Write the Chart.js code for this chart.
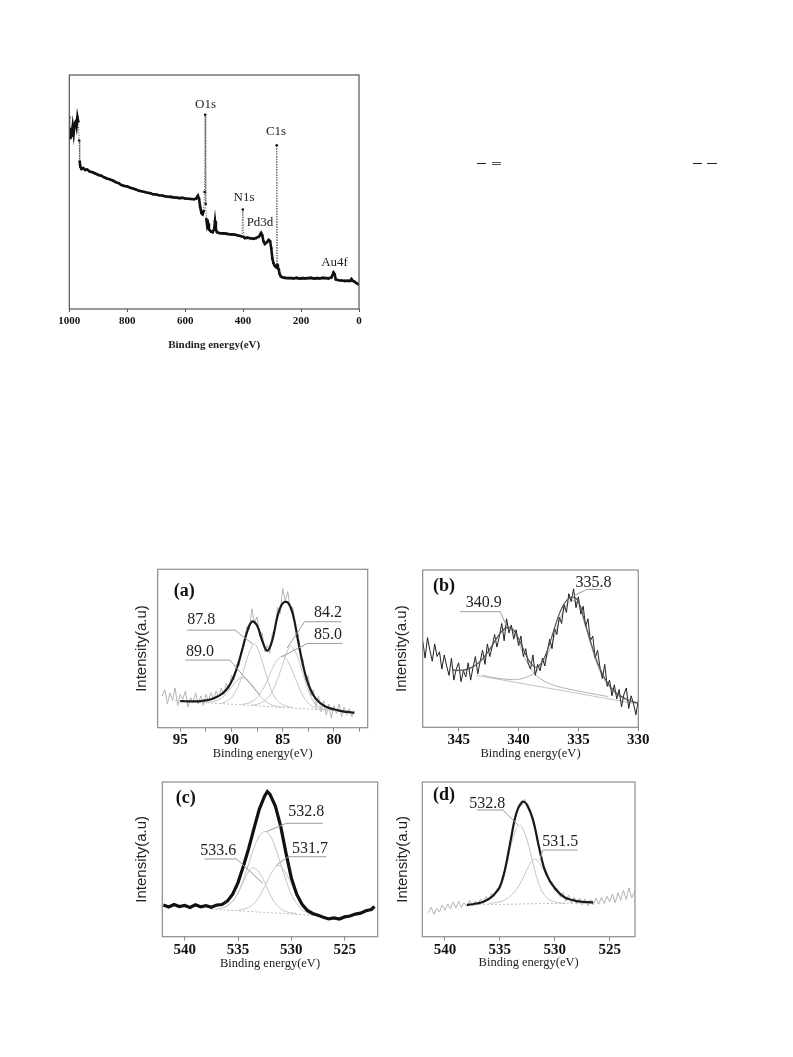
<!DOCTYPE html>
<html>
<head>
<meta charset="utf-8">
<script src="https://cdn.jsdelivr.net/npm/chart.js@4.4.1/dist/chart.umd.min.js"></script>
<style>
body { margin: 0; background: #fff; }
#page { position: relative; width: 793px; height: 1057px; overflow: hidden; background: #fff; }
canvas { position: absolute; }
.dash { position: absolute; height: 1.4px; background: #222; }
</style>
</head>
<body>
<div id="page">
  <canvas id="survey" width="350" height="300" style="left:40px;top:60px"></canvas>
  <canvas id="pa" width="265" height="215" style="left:125px;top:555px"></canvas>
  <canvas id="pb" width="275" height="215" style="left:385px;top:555px"></canvas>
  <canvas id="pc" width="265" height="200" style="left:125px;top:772px"></canvas>
  <canvas id="pd" width="275" height="200" style="left:385px;top:772px"></canvas>

  <div class="dash" style="left:477px;top:162.6px;width:9px"></div>
  <div class="dash" style="left:492px;top:161.6px;width:9px;height:1px;background:#555"></div>
  <div class="dash" style="left:492px;top:163.8px;width:9px;height:1px;background:#555"></div>
  <div class="dash" style="left:693px;top:162.6px;width:8.5px"></div>
  <div class="dash" style="left:707px;top:162.6px;width:9.5px"></div>
</div>
<script>
// survey scan
var SURVEY_X = [1000, 998, 996, 994, 991, 988, 985, 982, 978, 975, 972, 969, 966, 964, 962, 958, 952, 945, 938,
  930, 920, 910, 900, 890, 880, 870, 860, 850, 840, 830, 820, 810, 800, 790, 780, 770, 760, 750, 740,
  730, 720, 710, 700, 690, 680, 670, 660, 650, 640, 630, 620, 610, 600, 590, 580, 570, 562, 556, 552,
  548, 544, 540, 536, 533, 531, 529, 527, 524, 521, 518, 514, 510, 505, 500, 497, 494, 490, 480, 470,
  460, 450, 440, 430, 420, 410, 404, 401, 398, 394, 385, 375, 365, 355, 345, 338, 334, 330, 325, 318,
  312, 307, 303, 299, 295, 291, 287, 286, 284, 282, 280, 277, 274, 270, 265, 255, 245, 235, 225, 215,
  205, 195, 185, 175, 165, 155, 145, 135, 125, 115, 105, 95, 88, 84, 80, 70, 60, 50, 40, 30,
  26, 22, 15, 8, 0];
var SURVEY_Y = [82, 76, 73, 77, 74, 78, 75, 79, 80, 78, 82, 80, 72, 63, 60.8, 59.8, 60.2, 59.4, 59.6,
  58.8, 58.4, 57.9, 57.3, 57.0, 56.3, 55.8, 55.4, 54.9, 54.2, 53.8, 53.0, 52.6, 52.4, 51.8, 51.5, 51.1, 50.5, 50.3, 50.0,
  49.7, 49.5, 49.0, 48.9, 48.6, 48.5, 48.2, 48.0, 47.9, 47.7, 47.6, 47.4, 47.5, 47.2, 47.1, 47.0, 46.9, 47.2, 48.4, 47.0,
  43.5, 41.0, 40.5, 42.0, 50, 83, 45, 38.5, 35.5, 36.5, 34.0, 33.5, 33.0, 32.8, 34.0, 37.5, 34.0, 32.8, 32.4, 32.3,
  32.2, 32.0, 31.9, 31.8, 31.5, 31.2, 31.0, 42.5, 30.8, 30.3, 30.5, 30.2, 30.0, 30.3, 31.0, 32.5, 31.5, 29.0, 27.8, 28.5,
  29.5, 29.0, 26.0, 21.5, 19.5, 18.5, 18.0, 18.5, 70, 19, 17.5, 17.0, 15.0, 14.0, 13.6, 13.3, 13.2, 13.2, 13.1, 13.3,
  13.0, 13.2, 13.1, 13.2, 13.3, 13.0, 13.2, 13.1, 13.3, 13.2, 13.1, 13.5, 15.6, 14.8, 12.6, 12.3, 12.2, 12.0, 12.1, 12.0,
  12.8, 12.1, 11.6, 11.0, 10.4];

// (a) Au4f
var A_RAW_X = [96.75, 96.5, 96.25, 96, 95.75, 95.5, 95.25, 95, 94.75, 94.5, 94.25, 94, 93.75, 93.5, 93.25, 93,
  92.75, 92.5, 92.25, 92, 91.75, 91.5, 91.25, 91, 90.75, 90.5, 90.25, 90, 89.75, 89.5, 89.25, 89,
  88.75, 88.5, 88.25, 88, 87.75, 87.5, 87.25, 87, 86.75, 86.5, 86.25, 86, 85.75, 85.5, 85.25, 85,
  84.75, 84.5, 84.25, 84, 83.75, 83.5, 83.25, 83, 82.75, 82.5, 82.25, 82, 81.75, 81.5, 81.25, 81,
  80.75, 80.5, 80.25, 80, 79.75, 79.5, 79.25, 79, 78.75, 78.5, 78.25, 78];
var A_RAW_Y = [20, 24, 15, 22, 17, 25, 14, 21, 18, 23, 13, 19, 16, 22, 15, 20,
  14, 21, 17, 22, 18, 23, 19, 25, 21, 28, 24, 33, 30, 40, 39, 50,
  52, 64, 62, 75, 66, 70, 58, 60, 48, 52, 47, 60, 62, 76, 72, 88,
  80, 86, 74, 76, 62, 60, 46, 43, 30, 33, 20, 24, 13, 20, 10, 17,
  8, 15, 6, 14, 9, 15, 7, 13, 8, 12, 7, 11];
var A_ENV_X = [95, 94.5, 94, 93.5, 93, 92.5, 92, 91.5, 91, 90.5, 90, 89.5, 89, 88.5, 88, 87.5, 87, 86.5,
  86, 85.5, 85, 84.5, 84, 83.5, 83, 82.5, 82, 81.5, 81, 80.5, 80, 79.5, 79, 78.5, 78];
var A_ENV_Y = [16.8, 16.7, 16.6, 16.6, 16.8, 17.2, 18.0, 19.2, 21.0, 24.0, 29.0, 37.0, 48.0, 60.0, 67.0, 64.5, 55.0, 48.5,
  55.5, 70.5, 78.5, 79.0, 71.5, 55.0, 39.0, 27.5, 20.5, 16.5, 14.0, 12.5, 11.6, 10.8, 10.2, 9.8, 9.4];
var A_C890_X = [92.5, 92, 91.5, 91, 90.5, 90, 89.5, 89, 88.5, 88, 87.5, 87, 86.5, 86, 85.5, 85];
var A_C890_Y = [15.9, 16.2, 17.0, 18.6, 21.5, 25.5, 29.5, 31.5, 30.5, 27.0, 22.5, 18.5, 15.8, 14.2, 13.4, 12.9];
var A_C878_X = [91, 90.5, 90, 89.5, 89, 88.5, 88, 87.75, 87.5, 87, 86.5, 86, 85.5, 85, 84.5, 84];
var A_C878_Y = [15.4, 16.5, 19.0, 24.0, 32.0, 43.0, 51.5, 53.0, 51.0, 42.0, 31.0, 22.0, 17.0, 14.5, 13.3, 12.7];
var A_C850_X = [89, 88.5, 88, 87.5, 87, 86.5, 86, 85.5, 85, 84.5, 84, 83.5, 83, 82.5, 82, 81.5, 81];
var A_C850_Y = [14.6, 15.2, 16.5, 19.0, 23.5, 30.0, 37.5, 43.0, 45.0, 42.0, 35.0, 27.0, 20.0, 15.5, 13.0, 11.9, 11.4];
var A_C842_X = [88, 87.5, 87, 86.5, 86, 85.5, 85, 84.5, 84.25, 84, 83.5, 83, 82.5, 82, 81.5, 81, 80.5];
var A_C842_Y = [14.2, 14.8, 16.0, 18.5, 23.0, 30.5, 40.0, 49.0, 51.5, 50.5, 44.0, 33.5, 23.5, 16.5, 13.0, 11.6, 11.1];
var A_BG_X = [95.5, 78];
var A_BG_Y = [17.0, 10.0];

// (b) Pd3d
var B_RAW_X = [348.0, 347.8, 347.6, 347.4, 347.2, 347.0, 346.8, 346.6, 346.4, 346.2,
  346.0, 345.8, 345.6, 345.4, 345.2, 345.0, 344.8, 344.6, 344.4, 344.2,
  344.0, 343.8, 343.6, 343.4, 343.2, 343.0, 342.8, 342.6, 342.4, 342.2,
  342.0, 341.8, 341.6, 341.4, 341.2, 341.0, 340.8, 340.6, 340.4, 340.2,
  340.0, 339.8, 339.6, 339.4, 339.2, 339.0, 338.8, 338.6, 338.4, 338.2,
  338.0, 337.8, 337.6, 337.4, 337.2, 337.0, 336.8, 336.6, 336.4, 336.2,
  336.0, 335.8, 335.6, 335.4, 335.2, 335.0, 334.8, 334.6, 334.4, 334.2,
  334.0, 333.8, 333.6, 333.4, 333.2, 333.0, 332.8, 332.6, 332.4, 332.2,
  332.0, 331.8, 331.6, 331.4, 331.2, 331.0, 330.8, 330.6, 330.4, 330.2, 330.0];
var B_RAW_Y = [55, 44, 57, 49, 42, 53, 45, 48, 37, 46,
  39, 33, 44, 30, 37, 41, 29, 36, 32, 41,
  30, 38, 45, 34, 42, 49, 40, 53, 45, 51,
  59, 51, 58, 66, 55, 69, 60, 65, 56, 62,
  52, 58, 45, 50, 41, 37, 46, 33, 40, 36,
  44, 39, 48, 56, 50, 63, 59, 70, 66, 78,
  73, 85, 80, 88, 76, 83, 72, 77, 64, 69,
  55, 58, 44, 49, 38, 31, 40, 26, 30, 20,
  27, 18, 24, 13, 21, 25, 12, 20, 15, 8, 17];
var B_ENV_X = [345.5, 345, 344.5, 344, 343.5, 343, 342.5, 342, 341.5, 341, 340.5, 340, 339.5, 339, 338.5, 338,
  337.5, 337, 336.5, 336, 335.5, 335, 334.5, 334, 333.5, 333, 332.5, 332, 331.5, 331, 330.5, 330];
var B_ENV_Y = [36.5, 36.2, 36.5, 37.8, 40.0, 43.5, 48.5, 54.5, 60.0, 63.5, 62.5, 56.5, 48.0, 41.0, 38.2, 42.0,
  51.0, 63.0, 74.0, 80.5, 82.8, 80.0, 68.0, 55.0, 43.0, 34.0, 27.5, 23.0, 20.0, 18.0, 16.5, 15.3];
var B_C3409_X = [345.5, 345, 344.5, 344, 343.5, 343, 342.5, 342, 341.5, 341, 340.5, 340, 339.5, 339,
  338.5, 338, 337.5, 337, 336.5, 336, 335.5, 335, 334.5, 334, 333.5, 333, 332.5];
var B_C3409_Y = [36.0, 36.0, 36.3, 37.5, 39.8, 43.3, 48.3, 54.3, 59.8, 62.8, 61.0, 54.0, 44.5, 37.5,
  33.0, 30.0, 28.0, 26.6, 25.5, 24.6, 23.8, 23.0, 22.3, 21.6, 20.9, 20.2, 19.5];
var B_C3358_X = [343, 342, 341, 340.5, 340, 339.5, 339, 338.5, 338, 337.5, 337, 336.5, 336, 335.5, 335,
  334.5, 334, 333.5, 333, 332.5, 332, 331.5, 331, 330.5, 330];
var B_C3358_Y = [33.0, 31.5, 30.5, 30.3, 30.5, 31.5, 33.0, 35.5, 40.0, 47.5, 58.0, 69.5, 77.5, 80.5, 78.0,
  66.5, 53.5, 41.5, 32.5, 26.5, 22.0, 19.3, 17.4, 16.0, 15.0];
var B_BG_X = [343.5, 330];
var B_BG_Y = [33.0, 14.7];

// (c) O1s
var C_RAW_X = [542, 541.5, 541, 540.5, 540, 539.5, 539, 538.5, 538, 537.5, 537, 536.5, 536, 535.5, 535, 534.5,
  534, 533.5, 533, 532.5, 532.25, 532, 531.5, 531, 530.5, 530, 529.5, 529, 528.5, 528, 527.5, 527,
  526.5, 526, 525.5, 525, 524.5, 524, 523.5, 523, 522.5, 522.2];
var C_RAW_Y = [20.5, 19.2, 20.8, 19.5, 20.2, 18.9, 20.6, 19.3, 20.1, 19.0, 20.4, 20.8, 23.0, 27.5, 35.0, 45.5,
  57.0, 70.0, 82.5, 91.0, 93.8, 92.0, 84.5, 71.5, 54.0, 38.0, 27.5, 21.0, 17.0, 15.0, 13.8, 12.6,
  11.5, 12.2, 11.4, 12.8, 13.4, 14.6, 15.2, 16.8, 17.6, 19.5];
var C_C5336_X = [537, 536.5, 536, 535.5, 535, 534.5, 534, 533.6, 533, 532.5, 532, 531.5, 531, 530.5, 530, 529.5];
var C_C5336_Y = [18.0, 18.5, 20.0, 23.0, 28.0, 35.5, 42.0, 44.5, 41.5, 35.0, 27.5, 21.5, 18.0, 16.2, 15.4, 15.0];
var C_C5328_X = [536.5, 536, 535.5, 535, 534.5, 534, 533.5, 533, 532.5, 532, 531.5, 531, 530.5, 530, 529.5,
  529, 528.5, 528];
var C_C5328_Y = [18.5, 20.0, 23.0, 28.5, 37.0, 47.0, 57.5, 65.0, 68.0, 65.5, 57.5, 47.0, 36.5, 27.5, 21.5,
  17.5, 15.5, 14.5];
var C_C5317_X = [535, 534.5, 534, 533.5, 533, 532.5, 532, 531.5, 531.25, 531, 530.5, 530, 529.5, 529,
  528.5, 528, 527.5];
var C_C5317_Y = [17.0, 17.8, 19.0, 21.5, 26.0, 32.5, 39.5, 45.0, 46.0, 45.5, 41.0, 34.0, 26.5, 19.5,
  16.0, 14.5, 13.7];
var C_BG_X = [537.5, 527.5];
var C_BG_Y = [17.8, 13.6];

// (d) O1s
var D_RAW_X = [541.5, 541.25, 541, 540.75, 540.5, 540.25, 540, 539.75, 539.5, 539.25,
  539, 538.75, 538.5, 538.25, 538, 537.75, 537.5, 537.25, 537, 536.75,
  536.5, 536.25, 536, 535.75, 535.5, 535.25, 535, 534.75, 534.5, 534.25,
  534, 533.75, 533.5, 533.25, 533, 532.75, 532.5, 532.25, 532, 531.75,
  531.5, 531.25, 531, 530.75, 530.5, 530.25, 530, 529.75, 529.5, 529.25,
  529, 528.75, 528.5, 528.25, 528, 527.75, 527.5, 527.25, 527, 526.75,
  526.5, 526.25, 526, 525.75, 525.5, 525.25, 525, 524.75, 524.5, 524.25,
  524, 523.75, 523.5, 523.25, 523, 522.75];
var D_RAW_Y = [15.5, 19.0, 14.5, 18.5, 16.0, 20.5, 17.0, 21.0, 18.0, 22.5,
  18.5, 23.0, 19.0, 22.0, 19.5, 23.5, 20.0, 23.0, 20.5, 24.5,
  21.5, 26.0, 23.5, 28.0, 26.0, 31.0, 31.0, 39.5, 43.0, 55.0,
  61.0, 73.0, 78.5, 86.0, 85.0, 89.0, 83.0, 82.5, 74.0, 69.5,
  58.0, 54.5, 43.5, 42.0, 35.0, 35.5, 29.5, 31.0, 25.5, 28.5,
  23.0, 27.0, 21.5, 25.5, 21.0, 25.0, 20.5, 24.5, 20.0, 24.0,
  20.5, 25.0, 21.0, 25.5, 21.5, 26.0, 22.5, 27.5, 22.0, 28.5,
  23.5, 30.0, 24.0, 31.5, 25.0, 29.0];
var D_ENV_X = [538, 537.5, 537, 536.5, 536, 535.5, 535, 534.5, 534, 533.5, 533, 532.75, 532.5, 532, 531.5,
  531, 530.5, 530, 529.5, 529, 528.5, 528, 527.5, 527, 526.5];
var D_ENV_Y = [20.5, 21.0, 21.6, 22.6, 24.4, 27.5, 32.3, 44.5, 63.0, 80.0, 87.0, 87.0, 85.0, 76.0, 60.0,
  45.0, 36.7, 31.5, 27.5, 25.0, 23.9, 23.0, 22.6, 22.3, 22.2];
var D_C5328_X = [538, 537, 536, 535.5, 535, 534.5, 534, 533.5, 533.25, 533, 532.5, 532, 531.5, 531, 530.5,
  530, 529.5, 529];
var D_C5328_Y = [20.5, 21.5, 24.0, 27.0, 31.5, 42.5, 58.5, 70.0, 72.0, 71.0, 62.0, 48.0, 35.0, 27.5, 24.0,
  22.5, 21.8, 21.5];
var D_C5315_X = [536, 535, 534.5, 534, 533.5, 533, 532.5, 532, 531.75, 531.5, 531, 530.5, 530, 529.5, 529,
  528.5, 528, 527.5, 527];
var D_C5315_Y = [21.5, 22.5, 24.0, 26.5, 30.5, 36.5, 44.0, 49.5, 50.0, 48.5, 43.0, 36.0, 30.5, 27.0, 24.8,
  23.7, 22.9, 22.5, 22.3];
var D_BG_X = [538, 526.5];
var D_BG_Y = [20.5, 22.0];

var SERIF = '"Liberation Serif", "Times New Roman", serif';
var SANS = '"Liberation Sans", Arial, sans-serif';
var COMP = '#c4c4c4';

Chart.defaults.font.family = SERIF;
Chart.defaults.color = '#111';

function pts(xs, ys) {
  return xs.map(function (x, i) { return { x: x, y: ys[i] }; });
}

function line(xs, ys, color, width, extra) {
  return Object.assign({
    data: pts(xs, ys), borderColor: color, borderWidth: width,
    pointRadius: 0, tension: 0, fill: false
  }, extra || {});
}

// frame, labels and leader lines, placed through the chart's own scales
function marks(frame, texts, leaders) {
  return {
    id: 'marks',
    afterDatasetsDraw: function (chart) {
      var ctx = chart.ctx, a = chart.chartArea, sx = chart.scales.x, sy = chart.scales.y;
      ctx.save();
      ctx.strokeStyle = '#9a9a9a';
      ctx.lineWidth = 1;
      leaders.forEach(function (l) {
        ctx.beginPath();
        l.forEach(function (p, i) {
          var px = sx.getPixelForValue(p[0]), py = sy.getPixelForValue(p[1]);
          if (i) ctx.lineTo(px, py); else ctx.moveTo(px, py);
        });
        ctx.stroke();
      });
      ctx.textAlign = 'center';
      ctx.textBaseline = 'middle';
      texts.forEach(function (t) {
        ctx.font = t.font;
        ctx.fillStyle = t.color || '#222';
        ctx.fillText(t.text, sx.getPixelForValue(t.x), sy.getPixelForValue(t.y));
      });
      ctx.strokeStyle = frame.color;
      ctx.lineWidth = frame.width;
      ctx.strokeRect(a.left, a.top, a.right - a.left, a.bottom - a.top);
      ctx.restore();
    }
  };
}

function steep(c) { return Math.abs(c.p1.parsed.y - c.p0.parsed.y) > 4.5; }

function panel(id, o) {
  return new Chart(document.getElementById(id), {
    type: 'line',
    data: { datasets: o.datasets },
    plugins: [marks(o.frame, o.texts, o.leaders)],
    options: {
      responsive: false,
      animation: false,
      layout: { padding: { top: o.top, right: o.right, left: 0, bottom: 0 } },
      plugins: { legend: { display: false }, tooltip: { enabled: false } },
      scales: {
        x: {
          type: 'linear', reverse: true, min: o.xmin, max: o.xmax,
          afterFit: function (s) { s.height = o.xh; },
          grid: { display: true, drawOnChartArea: false, drawTicks: true, tickLength: o.tick, color: o.frame.color },
          border: { display: false },
          ticks: {
            stepSize: o.step, includeBounds: false, autoSkip: false, maxRotation: 0,
            padding: o.tickPad, color: '#111',
            font: { family: SERIF, size: o.tickSize, weight: 'bold' },
            callback: function (v) { return v % o.every === 0 ? v : ''; }
          },
          title: {
            display: true, text: 'Binding energy(eV)', color: '#222',
            font: { family: SERIF, size: o.titleSize, weight: o.titleWeight },
            padding: { top: 0, bottom: o.titlePad }
          }
        },
        y: {
          type: 'linear', min: 0, max: 100,
          afterFit: function (s) { s.width = o.yw; },
          grid: { display: false },
          border: { display: false },
          ticks: { display: false },
          title: {
            display: !!o.yTitle, text: o.yTitle || '', color: '#222',
            font: { family: SANS, size: 15 },
            padding: { top: o.yTitlePad, bottom: 0 }
          }
        }
      }
    }
  });
}

var NUM = '16px ' + SERIF;
var LETTER = 'bold 18px ' + SERIF;

panel('survey', {
  xmin: 0, xmax: 1000, step: 200, every: 200,
  top: 15, right: 31, yw: 29.3, xh: 51,
  tick: 3, tickPad: 2.4, tickSize: 11, titleSize: 11, titleWeight: 'bold', titlePad: 8.4,
  frame: { color: '#555', width: 1.2 },
  datasets: [
    line(SURVEY_X, SURVEY_Y, '#111', 2.6, {
      pointRadius: 1.3, pointBackgroundColor: '#111', pointBorderWidth: 0,
      segment: {
        borderDash: function (c) { return steep(c) ? [1, 1.6] : undefined; },
        borderColor: function (c) { return steep(c) ? '#666' : undefined; },
        borderWidth: function (c) { return steep(c) ? 1.3 : undefined; }
      }
    })
  ],
  texts: [
    { text: 'O1s', x: 529.9, y: 87.5, font: '13px ' + SERIF },
    { text: 'C1s', x: 286.5, y: 75.8, font: '13px ' + SERIF },
    { text: 'N1s', x: 397, y: 47.6, font: '13px ' + SERIF },
    { text: 'Pd3d', x: 341.7, y: 36.9, font: '13px ' + SERIF },
    { text: 'Au4f', x: 84.6, y: 19.8, font: '13px ' + SERIF }
  ],
  leaders: []
});

panel('pa', {
  xmin: 76.7, xmax: 97.2, step: 2.5, every: 5,
  top: 14.3, right: 22.3, yw: 32.7, xh: 42.3,
  tick: 4, tickPad: -1, tickSize: 15, titleSize: 12.5, titleWeight: 'normal', titlePad: 9.2,
  yTitle: 'Intensity(a.u)', yTitlePad: 7.7,
  frame: { color: '#8c8c8c', width: 1.2 },
  datasets: [
    line(A_ENV_X, A_ENV_Y, '#1a1a1a', 2.2, { tension: 0.4 }),
    line(A_C890_X, A_C890_Y, COMP, 1, { tension: 0.4 }),
    line(A_C878_X, A_C878_Y, COMP, 1, { tension: 0.4 }),
    line(A_C850_X, A_C850_Y, COMP, 1, { tension: 0.4 }),
    line(A_C842_X, A_C842_Y, COMP, 1, { tension: 0.4 }),
    line(A_BG_X, A_BG_Y, '#bdbdbd', 1, { borderDash: [2, 2] }),
    line(A_RAW_X, A_RAW_Y, '#b4b4b4', 1)
  ],
  texts: [
    { text: '(a)', x: 94.6, y: 85.9, font: LETTER, color: '#111' },
    { text: '87.8', x: 92.96, y: 68, font: NUM },
    { text: '89.0', x: 93.06, y: 48, font: NUM },
    { text: '84.2', x: 80.58, y: 72.4, font: NUM },
    { text: '85.0', x: 80.58, y: 58.5, font: NUM }
  ],
  leaders: [
    [[94.32, 61.6], [89.66, 61.6], [87.91, 52.8]],
    [[94.51, 42.7], [90.15, 42.7], [87.23, 20.6]],
    [[79.27, 66.9], [82.86, 66.9], [84.56, 50.3]],
    [[79.17, 53.2], [82.57, 53.2], [85.13, 44.8]]
  ]
});

panel('pb', {
  xmin: 330, xmax: 348, step: 5, every: 5,
  top: 15, right: 21.7, yw: 37.7, xh: 42.7,
  tick: 4, tickPad: 0, tickSize: 15, titleSize: 12.5, titleWeight: 'normal', titlePad: 9.2,
  yTitle: 'Intensity(a.u)', yTitlePad: 7.7,
  frame: { color: '#8c8c8c', width: 1.2 },
  datasets: [
    line(B_ENV_X, B_ENV_Y, '#555', 1.2, { tension: 0.4 }),
    line(B_RAW_X, B_RAW_Y, '#222', 1),
    line(B_C3409_X, B_C3409_Y, '#b0b0b0', 1, { tension: 0.4 }),
    line(B_C3358_X, B_C3358_Y, '#b0b0b0', 1, { tension: 0.4 }),
    line(B_BG_X, B_BG_Y, '#c4c4c4', 1)
  ],
  texts: [
    { text: '(b)', x: 346.23, y: 89.8, font: LETTER, color: '#111' },
    { text: '340.9', x: 342.9, y: 79, font: NUM },
    { text: '335.8', x: 333.73, y: 91.9, font: NUM }
  ],
  leaders: [
    [[344.86, 73.5], [341.53, 73.5], [340.97, 64]],
    [[335.55, 83.0], [334.3, 87.7], [333.05, 87.7]]
  ]
});

panel('pc', {
  xmin: 521.9, xmax: 542.1, step: 5, every: 5,
  top: 10, right: 12.3, yw: 37.3, xh: 35.3,
  tick: 4, tickPad: 0, tickSize: 15, titleSize: 12.5, titleWeight: 'normal', titlePad: 1.2,
  yTitle: 'Intensity(a.u)', yTitlePad: 7.7,
  frame: { color: '#8c8c8c', width: 1.2 },
  datasets: [
    line(C_RAW_X, C_RAW_Y, '#111', 3.2),
    line(C_C5336_X, C_C5336_Y, COMP, 1, { tension: 0.4 }),
    line(C_C5328_X, C_C5328_Y, COMP, 1, { tension: 0.4 }),
    line(C_C5317_X, C_C5317_Y, COMP, 1, { tension: 0.4 }),
    line(C_BG_X, C_BG_Y, '#bdbdbd', 1, { borderDash: [2, 2] })
  ],
  texts: [
    { text: '(c)', x: 539.9, y: 89.7, font: LETTER, color: '#111' },
    { text: '532.8', x: 528.6, y: 80.8, font: NUM },
    { text: '531.7', x: 528.24, y: 57.1, font: NUM },
    { text: '533.6', x: 536.86, y: 55.6, font: NUM }
  ],
  leaders: [
    [[527.04, 73.3], [530.47, 73.3], [532.34, 67.9]],
    [[526.72, 51.7], [530.3, 51.7], [531.4, 46.3]],
    [[538.13, 50.2], [535.13, 50.2], [532.66, 34.5]]
  ]
});

panel('pd', {
  xmin: 522.7, xmax: 542.06, step: 5, every: 5,
  top: 10, right: 25, yw: 37.3, xh: 35.3,
  tick: 4, tickPad: 0, tickSize: 15, titleSize: 12.5, titleWeight: 'normal', titlePad: 1.8,
  yTitle: 'Intensity(a.u)', yTitlePad: 9,
  frame: { color: '#8c8c8c', width: 1.2 },
  datasets: [
    line(D_ENV_X, D_ENV_Y, '#1a1a1a', 2.2, { tension: 0.4 }),
    line(D_C5328_X, D_C5328_Y, COMP, 1, { tension: 0.4 }),
    line(D_C5315_X, D_C5315_Y, COMP, 1, { tension: 0.4 }),
    line(D_BG_X, D_BG_Y, '#bdbdbd', 1, { borderDash: [2, 2] }),
    line(D_RAW_X, D_RAW_Y, '#b4b4b4', 1)
  ],
  texts: [
    { text: '(d)', x: 540.09, y: 91.6, font: LETTER, color: '#111' },
    { text: '532.8', x: 536.14, y: 86.2, font: NUM },
    { text: '531.5', x: 529.5, y: 61.4, font: NUM }
  ],
  leaders: [
    [[537.09, 81.9], [534.73, 81.9], [533.36, 72.2]],
    [[527.91, 56], [531.09, 56], [531.36, 49.6]]
  ]
});
</script>
</body>
</html>
